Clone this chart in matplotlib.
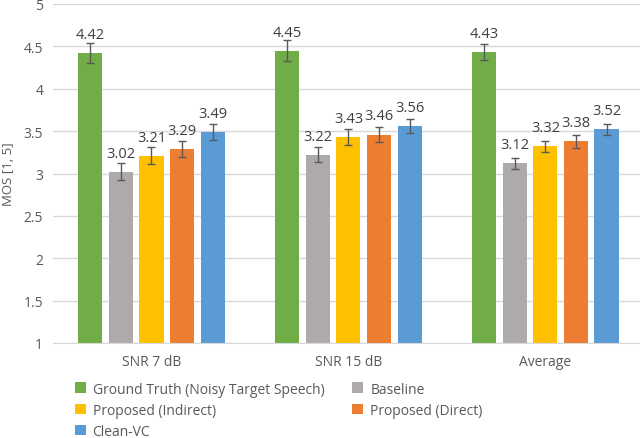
import numpy as np
import matplotlib.pyplot as plt
from matplotlib.patches import Patch

plt.rcParams["font.family"] = ["Open Sans", "DejaVu Sans"]

groups = ["SNR 7 dB", "SNR 15 dB", "Average"]
series = [
    "Ground Truth (Noisy Target Speech)",
    "Baseline",
    "Proposed (Indirect)",
    "Proposed (Direct)",
    "Clean-VC",
]
colors = ["#70AD47", "#AEAAAA", "#FFC000", "#ED7D31", "#5B9BD5"]

mos = [
    [4.42, 4.45, 4.43],
    [3.02, 3.22, 3.12],
    [3.21, 3.43, 3.32],
    [3.29, 3.46, 3.38],
    [3.49, 3.56, 3.52],
]
ci = [
    [0.12, 0.12, 0.095],
    [0.10, 0.09, 0.065],
    [0.10, 0.09, 0.065],
    [0.09, 0.09, 0.075],
    [0.095, 0.08, 0.065],
]

fig = plt.figure(figsize=(6.4, 4.39), dpi=100)
ax = fig.add_axes([53 / 640, 95 / 439, 587 / 640, 339 / 439])

x = np.arange(len(groups))
step = 0.155
width = 0.122
text_col = "#404040"

handles = []
for i, name in enumerate(series):
    pos = x + (i - 2) * step
    ax.bar(pos, mos[i], width, bottom=0, color=colors[i], zorder=2)
    ax.errorbar(pos, mos[i], yerr=ci[i], fmt="none", ecolor="#595959",
                elinewidth=1, capsize=3, capthick=1, zorder=3)
    for px, v in zip(pos, mos[i]):
        ax.annotate(f"{v:.2f}", (px, v), xytext=(0, 8), textcoords="offset points",
                    ha="center", va="bottom", fontsize=10.5, color=text_col)
    handles.append(Patch(facecolor=colors[i], label=name))

ax.set_ylim(1, 5)
ax.set_xlim(-0.5, 2.48)
ax.set_yticks(np.arange(1, 5.01, 0.5))
ax.set_yticklabels(["1", "1.5", "2", "2.5", "3", "3.5", "4", "4.5", "5"])
ax.set_xticks(x)
ax.set_xticklabels(groups)
ax.tick_params(axis="both", length=0, labelsize=10, colors="#595959")
ax.tick_params(axis="y", pad=7)
ax.tick_params(axis="x", pad=8)
ax.yaxis.grid(True, color="#D9D9D9", linewidth=1, zorder=0)
ax.set_axisbelow(True)
for s in ["top", "right", "left"]:
    ax.spines[s].set_visible(False)
ax.spines["bottom"].set_color("#D9D9D9")
ax.set_ylabel("MOS [1, 5]", fontsize=9.5, color="#595959")
ax.yaxis.set_label_coords(-38 / 587, 0.5)

order = [0, 2, 4, 1, 3]
leg = fig.legend([handles[k] for k in order], [series[k] for k in order],
                 loc="upper left", bbox_to_anchor=(62 / 640, 1 - 370 / 439),
                 ncol=2, frameon=False, fontsize=10, handlelength=0.8,
                 handleheight=0.8, handletextpad=0.5, columnspacing=2.0,
                 labelspacing=0.45, labelcolor="#595959")

fig.savefig("out.png", dpi=100)
